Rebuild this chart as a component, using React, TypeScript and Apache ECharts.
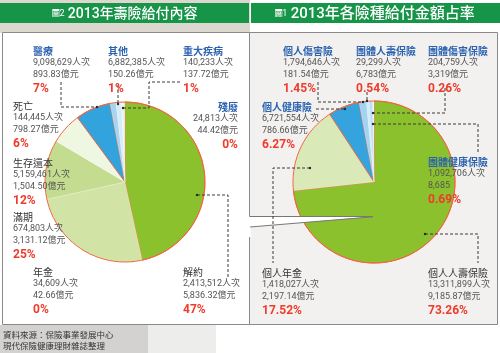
import React, { useEffect, useRef } from 'react';
import * as echarts from 'echarts';

// ---- Data: 2013 life insurance benefits (left pie)
const lifeNames = ['解約', '滿期', '生存還本', '死亡', '醫療', '其他', '重大疾病', '殘廢', '年金'];
const lifeCounts = ['2,413,512', '674,803', '5,159,461', '144,445', '9,098,629', '6,882,385', '140,233', '24,813', '34,609'];
const lifeAmounts = [5836.32, 3131.12, 1504.5, 798.27, 893.83, 150.26, 137.72, 44.42, 42.66];
const lifePct = ['47%', '25%', '12%', '6%', '7%', '1%', '1%', '0%', '0%'];

// ---- Data: 2013 benefit share by insurance type (right pie)
const typeNames = ['個人人壽保險', '個人年金', '個人健康險', '個人傷害險', '團體人壽保險', '團體健康保險', '團體傷害保險'];
const typeCounts = ['13,311,899', '1,418,027', '6,721,554', '1,794,646', '29,299', '1,092,706', '204,759'];
const typeAmounts = [9185.87, 2197.14, 786.66, 181.54, 67.83, 86.85, 33.19];
const typeAmountLabels = ['9,185.87億元', '2,197.14億元', '786.66億元', '181.54億元', '6,783億元', '8,685', '3,319億元'];
const typePct = ['73.26%', '17.52%', '6.27%', '1.45%', '0.54%', '0.69%', '0.26%'];

const leftTitle = '2013年壽險給付內容';
const rightTitle = '2013年各險種給付金額占率';
const sourceLines = ['資料來源：保險事業發展中心', '現代保險健康理財雜誌整理'];

// ---- Styles / layout
const FONT = "Roboto, 'Noto Sans CJK TC', sans-serif";
const CJK = "'Noto Sans CJK TC', sans-serif";
const RED = '#ee3b2c';
const EDGE = '#f0673f';
const GREEN_BAR = '#169447';
const BLUE_TXT = '#2c63b0';

const lifeColors = ['#8cc12e', '#d1e4a6', '#c4dc8f', '#eff6e1', '#33a3dd', '#a6d4f1', '#d7ecf9', '#e6f3fb', '#dcebbf'];
const typeColors = ['#8cc12e', '#d9eab8', '#35a4de', '#a3d3f2', '#d2eaf8', '#b9def5', '#e8f4fb'];
const lifeRedEdge = [true, false, false, false, true, false, false, false, false];
const typeRedEdge = [true, false, true, false, false, false, false];
const lifeBlue = [false, false, false, false, true, true, true, true, false];
const typeBlue = [false, false, true, true, true, true, true];

const leftCenter = [125, 182];
const leftR = 80;
const rightCenter = [374, 182];
const rightR = 81;

// label block positions [x, top, align]
const lifeLabelPos: [number, number, string][] = [
  [183, 265, 'left'], [13, 210, 'left'], [13, 156, 'left'], [13, 99, 'left'], [33, 44, 'left'],
  [108, 44, 'left'], [183, 44, 'left'], [238, 100, 'right'], [33, 265, 'left'],
];
const typeLabelPos: [number, number, string][] = [
  [428, 266, 'left'], [262, 266, 'left'], [262, 100, 'left'], [283, 44, 'left'],
  [356, 44, 'left'], [428, 155, 'left'], [428, 44, 'left'],
];
const leaderLines: number[][][] = [
  [[61, 82], [61, 107], [97, 107]],
  [[118, 85], [118, 104]],
  [[180, 82], [149, 82], [149, 108], [123, 108]],
  [[197, 195], [228, 195], [228, 279]],
  [[318, 82], [318, 102], [363, 102]],
  [[367, 92], [367, 101]],
  [[445, 88], [445, 113], [373, 113]],
  [[316, 109], [345, 109]],
  [[373, 124], [478, 124], [478, 153]],
  [[310, 168], [273, 168], [273, 263]],
  [[425, 234], [478, 234], [478, 263]],
];
const leaderDots: number[][] = [
  [97, 107], [118, 104], [123, 108], [197, 195], [363, 102], [367, 101], [373, 113], [345, 109], [373, 124], [310, 168], [425, 234],
];

const fmtAmount = (v: number) =>
  v.toLocaleString('en-US', { minimumFractionDigits: 2, maximumFractionDigits: 2 }) + '億元';

function labelBlock(name: string, count: string, amount: string, pct: string, pos: [number, number, string], blue: boolean) {
  const align = pos[2];
  return {
    type: 'text',
    x: pos[0],
    y: pos[1],
    z: 30,
    style: {
      text: `{n|${name}}\n{v|${count}人次}\n{v|${amount}}\n{p|${pct}}`,
      align,
      textAlign: align,
      verticalAlign: 'top',
      textVerticalAlign: 'top',
      fontFamily: FONT,
      rich: {
        n: { fontSize: 10, lineHeight: 12, fill: blue ? BLUE_TXT : '#333', fontFamily: CJK, fontWeight: blue ? 'bold' : 'normal', align },
        v: { fontSize: 9, lineHeight: 12, fill: '#555', fontFamily: FONT, align },
        p: { fontSize: 12, lineHeight: 16, fill: RED, fontWeight: 'bold', fontFamily: FONT, align },
      },
    },
  };
}

function titleText(cx: number, text: string, num: string, size: number) {
  return {
    type: 'text',
    x: cx,
    y: 13,
    z: 30,
    style: {
      text: `{b|圖}{m|${num}} {t|${text}}`,
      align: 'center',
      textAlign: 'center',
      verticalAlign: 'middle',
      textVerticalAlign: 'middle',
      rich: {
        b: { fontSize: 7, fill: GREEN_BAR, backgroundColor: '#ffffff', fontFamily: CJK, padding: [1, 0, 0, 0] },
        m: { fontSize: 9, fill: '#fff', fontFamily: FONT },
        t: { fontSize: size, fill: '#fff', fontFamily: FONT, fontWeight: 500 },
      },
    },
  };
}

export default function App() {
  const ref = useRef<HTMLDivElement>(null);
  useEffect(() => {
    const chart = echarts.init(ref.current!, null, { renderer: 'svg' });

    const lifeData = lifeNames.map((n, i) => ({
      name: n,
      value: lifeAmounts[i],
      itemStyle: {
        color: lifeColors[i],
        borderColor: lifeRedEdge[i] ? EDGE : 'rgba(255,255,255,0.5)',
        borderWidth: lifeRedEdge[i] ? 1 : 0.4,
      },
    }));
    const typeData = typeNames.map((n, i) => ({
      name: n,
      value: typeAmounts[i],
      itemStyle: {
        color: typeColors[i],
        borderColor: typeRedEdge[i] ? EDGE : 'rgba(255,255,255,0.5)',
        borderWidth: typeRedEdge[i] ? 1 : 0.4,
      },
    }));

    const pieBase = {
      type: 'pie',
      startAngle: 90,
      clockwise: true,
      silent: true,
      label: { show: false },
      labelLine: { show: false },
      emphasis: { disabled: true },
      avoidLabelOverlap: false,
    };

    const graphics: any[] = [];
    // background pieces
    graphics.push({ type: 'rect', z: -20, shape: { x: 0, y: 0, width: 500, height: 353 }, style: { fill: '#ffffff' } });
    graphics.push({ type: 'rect', z: -19, shape: { x: 0, y: 0, width: 250, height: 33 }, style: { fill: '#dcd7cf' } });
    graphics.push({ type: 'rect', z: -19, shape: { x: 0, y: 325, width: 148, height: 28 }, style: { fill: '#d3d2d0' } });
    graphics.push({ type: 'rect', z: -19, shape: { x: 148, y: 325, width: 68, height: 28 }, style: { fill: '#ededec' } });
    // title bars
    graphics.push({ type: 'rect', z: -10, shape: { x: 0, y: 3, width: 249, height: 20 }, style: { fill: GREEN_BAR } });
    graphics.push({ type: 'rect', z: -10, shape: { x: 251, y: 3, width: 249, height: 20 }, style: { fill: GREEN_BAR } });
    graphics.push(titleText(125, leftTitle, '2', 14));
    graphics.push(titleText(375, rightTitle, '1', 15));
    // panels
    graphics.push({ type: 'rect', z: -10, shape: { x: 2.5, y: 32.5, width: 247, height: 292 }, style: { fill: '#ffffff', stroke: '#8a8a8a', lineWidth: 1 } });
    graphics.push({ type: 'rect', z: -9, shape: { x: 249.5, y: 32.5, width: 248, height: 292 }, style: { fill: '#f2f1ef', stroke: '#8a8a8a', lineWidth: 1 } });
    // callout wedge
    graphics.push({ type: 'rect', z: 10, shape: { x: 248.5, y: 217, width: 2.5, height: 20 }, style: { fill: '#ffffff' } });
    graphics.push({ type: 'polygon', z: 11, shape: { points: [[249, 216.5], [373, 216.5], [250, 227]] }, style: { fill: '#ffffff' } });
    graphics.push({ type: 'line', z: 12, shape: { x1: 249.5, y1: 216.5, x2: 373, y2: 216.5 }, style: { stroke: '#777', lineWidth: 1 } });
    graphics.push({ type: 'line', z: 12, shape: { x1: 250, y1: 227, x2: 373, y2: 216.8 }, style: { stroke: '#777', lineWidth: 1 } });

    leaderLines.forEach((pts) =>
      graphics.push({ type: 'polyline', z: 20, shape: { points: pts }, style: { stroke: '#3a3a3a', lineWidth: 1, lineDash: [3, 2], fill: null } })
    );
    leaderDots.forEach((p) =>
      graphics.push({ type: 'circle', z: 21, shape: { cx: p[0], cy: p[1], r: 1.2 }, style: { fill: '#222' } })
    );

    lifeNames.forEach((n, i) =>
      graphics.push(labelBlock(n, lifeCounts[i], fmtAmount(lifeAmounts[i]), lifePct[i], lifeLabelPos[i], lifeBlue[i]))
    );
    typeNames.forEach((n, i) =>
      graphics.push(labelBlock(n, typeCounts[i], typeAmountLabels[i], typePct[i], typeLabelPos[i], typeBlue[i]))
    );

    graphics.push({
      type: 'text', x: 3, y: 328, z: 30,
      style: {
        text: sourceLines.join('\n'), fontSize: 8.5, lineHeight: 11, fill: '#333', fontFamily: CJK,
        verticalAlign: 'top', textVerticalAlign: 'top',
      },
    });

    chart.setOption({
      animation: false,
      backgroundColor: 'transparent',
      graphic: { elements: graphics },
      series: [
        { ...pieBase, z: 2, center: leftCenter, radius: [0, leftR], data: lifeData },
        { ...pieBase, z: 2, center: rightCenter, radius: [0, rightR], data: typeData },
        {
          ...pieBase, z: 3, center: leftCenter, radius: [0, leftR],
          data: [{ value: 1, name: 'outline', itemStyle: { color: 'transparent', borderColor: EDGE, borderWidth: 1 } }],
        },
        {
          ...pieBase, z: 3, center: rightCenter, radius: [0, rightR],
          data: [{ value: 1, name: 'outline', itemStyle: { color: 'transparent', borderColor: EDGE, borderWidth: 1 } }],
        },
      ],
    });
    return () => chart.dispose();
  }, []);
  return <div ref={ref} style={{ position: 'fixed', left: 0, top: 0, width: 500, height: 353 }} />;
}
